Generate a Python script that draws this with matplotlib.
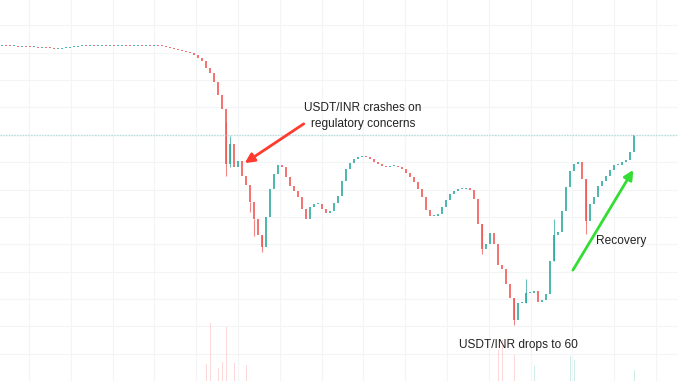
import matplotlib
matplotlib.use("Agg")
import matplotlib.pyplot as plt
import numpy as np

# closing prices (INR), one candle per step
closes = [
    85.64, 85.62, 85.59, 85.60, 85.55, 85.57, 85.53, 85.50, 85.52, 85.45,
    85.47, 85.44, 85.41, 85.32, 85.36, 85.41, 85.45, 85.50, 85.55, 85.59,
    85.64, 85.62, 85.65, 85.63, 85.64, 85.66, 85.63, 85.65, 85.62, 85.64,
    85.66, 85.63, 85.59, 85.62, 85.65, 85.63, 85.66, 85.62, 85.64, 85.61,
    85.59, 85.55, 85.45, 85.36, 85.27, 85.18, 85.09, 85.00, 84.82, 84.55,
    84.27, 83.64, 83.18, 82.36, 81.18, 79.82, 74.82, 76.64, 74.55, 75.09,
    73.73, 72.91, 71.36, 69.82, 68.36, 67.27, 70.00, 72.55, 73.91, 74.73,
    74.55, 73.64, 72.82, 72.36, 71.82, 70.73, 69.82, 70.91, 71.18, 71.18,
    70.73, 70.36, 70.55, 71.27, 71.91, 73.27, 74.36, 74.91, 75.27, 75.45,
    75.55, 75.45, 75.27, 75.00, 74.82, 74.64, 74.55, 74.64, 74.64, 74.55,
    74.36, 74.00, 73.64, 73.18, 72.55, 71.82, 70.64, 70.09, 70.09, 70.27,
    70.91, 71.55, 72.09, 72.36, 72.55, 72.55, 72.64, 72.45, 71.64, 69.36,
    67.09, 67.55, 68.55, 67.55, 65.64, 65.27, 63.82, 62.55, 60.55, 62.09,
    62.09, 63.00, 63.00, 63.18, 62.18, 62.36, 62.91, 66.00, 68.36, 68.64,
    70.55, 72.73, 74.18, 74.82, 75.00, 73.45, 69.64, 71.18, 71.82, 72.82,
    73.27, 73.73, 74.27, 74.73, 74.73, 75.00, 75.18, 75.91, 77.45,
]

# the visible long wicks (candle index, low, high)
wick_idx = [56, 57, 62, 63, 65, 120, 128, 131, 138, 146]
wick_lo = [73.73, 74.55, 70.45, 68.27, 66.82, 66.60, 60.09, 62.09, 66.00, 68.45]
wick_hi = [78.64, 77.36, 71.36, 69.82, 68.36, 69.36, 62.55, 64.36, 69.82, 73.45]

# faint volume bars (candle index, volume)
vol_idx = [51, 52, 54, 55, 56, 58, 61, 124, 125, 128, 133, 142, 143, 158]
vol_val = [4.5, 15.2, 3.4, 5.0, 14.2, 4.7, 4.2, 8.1, 10.8, 6.8, 3.9, 6.6, 5.5, 2.9]

last_price = 77.45

up_col = "#26a69a"
down_col = "#ef5350"

opens = [closes[0]] + closes[:-1]
x = np.arange(len(closes))
colors = [up_col if c >= o else down_col for o, c in zip(opens, closes)]
bottoms = [min(o, c) for o, c in zip(opens, closes)]
heights = [max(abs(c - o), 0.09) for o, c in zip(opens, closes)]

fig = plt.figure(figsize=(6.78, 3.81), dpi=100)
ax = fig.add_axes([0, 0, 1, 1])
ax.set_xlim(-0.5, 169)
ax.set_ylim(55.18, 89.82)

# grid
ax.set_xticks(np.arange(6.75, 169, 10.45))
ax.set_yticks(np.arange(55, 90, 2.5))
ax.tick_params(length=0, labelbottom=False, labelleft=False)
ax.grid(color="#f3f4f6", lw=0.8)
ax.set_axisbelow(True)
for s in ax.spines.values():
    s.set_visible(False)

# volume on its own scale
axv = ax.twinx()
axv.set_ylim(0, 100)
axv.axis("off")
axv.bar(vol_idx, vol_val, width=0.25,
        color=[colors[i] for i in vol_idx], alpha=0.22)

ax.axhline(last_price, color="#b2dfdb", lw=1, ls=(0, (1, 1)))

ax.vlines(wick_idx, wick_lo, wick_hi, colors=[colors[i] for i in wick_idx],
          lw=0.8, alpha=0.7)
ax.bar(x, heights, bottom=bottoms, width=0.55, color=colors, alpha=0.8, lw=0)

fnt = ["Liberation Sans", "DejaVu Sans"]
ax.text(0.535, 0.696, "USDT/INR crashes on\nregulatory concerns", transform=ax.transAxes,
        ha="center", va="center", fontsize=8.6, family=fnt, color="#222222",
        linespacing=1.5)
ax.text(0.916, 0.367, "Recovery", transform=ax.transAxes, ha="center", va="center",
        fontsize=8.6, family=fnt, color="#222222")
ax.text(0.764, 0.094, "USDT/INR drops to 60", transform=ax.transAxes, ha="center",
        va="center", fontsize=8.6, family=fnt, color="#222222")

ax.annotate("", xy=(0.361, 0.572), xytext=(0.448, 0.675),
            xycoords="axes fraction", textcoords="axes fraction",
            arrowprops=dict(arrowstyle="-|>", color="#ff3b30", lw=2, mutation_scale=14,
                            shrinkA=0, shrinkB=0))
ax.annotate("", xy=(0.934, 0.554), xytext=(0.845, 0.291),
            xycoords="axes fraction", textcoords="axes fraction",
            arrowprops=dict(arrowstyle="-|>", color="#33dd33", lw=2, mutation_scale=14,
                            shrinkA=0, shrinkB=0))

fig.savefig("out.png", dpi=100)
